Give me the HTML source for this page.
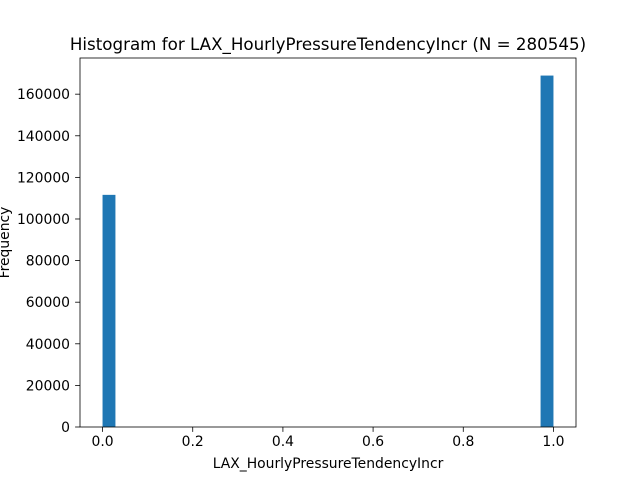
<!DOCTYPE html>
<html><head><meta charset="utf-8"><style>
body{margin:0;background:#fff;}
svg text{font-family:"DejaVu Sans","Liberation Sans",sans-serif;fill:#000;}
</style></head><body>
<svg id="chart" width="640" height="480"></svg>
<script>
const binCount = 35;
const counts = [111600,0,0,0,0,0,0,0,0,0,0,0,0,0,0,0,0,0,0,0,0,0,0,0,0,0,0,0,0,0,0,0,0,0,168945];
const xTicks = [0.0, 0.2, 0.4, 0.6, 0.8, 1.0];
const xTickLabels = ["0.0","0.2","0.4","0.6","0.8","1.0"];
const yTicks = [0,20000,40000,60000,80000,100000,120000,140000,160000];
const yTickLabels = ["0","20000","40000","60000","80000","100000","120000","140000","160000"];
const binWidth = 1/binCount;

const L=80,R=576,T=58,B=427;
const xmin=-0.05,xmax=1.05;
const ymax=Math.max(...counts)*1.05;
const xs=v=>L+(v-xmin)/(xmax-xmin)*(R-L);
const ys=v=>B-v/ymax*(B-T);
const svg=document.getElementById('chart');
const NS='http://www.w3.org/2000/svg';
function mk(tag,attrs,parent){const e=document.createElementNS(NS,tag);for(const k in attrs)e.setAttribute(k,attrs[k]);(parent||svg).appendChild(e);return e;}

counts.forEach((c,i)=>{
  if(c<=0)return;
  const x0=xs(i*binWidth),x1=xs((i+1)*binWidth);
  const r=mk('rect',{x:x0,y:ys(c),width:x1-x0,height:B-ys(c),fill:'#1f77b4'});
  
  
});

const frame=mk('rect',{x:L,y:T,width:R-L,height:B-T,fill:'none',stroke:'#000','stroke-width':0.8});



xTicks.forEach((v,i)=>{
  const x=xs(v);
  mk('line',{x1:x,x2:x,y1:B,y2:B+4.9,stroke:'#000','stroke-width':0.8});
  const t=mk('text',{x:x,y:B+19,'font-size':13.9,'text-anchor':'middle'});
  t.textContent=xTickLabels[i];
  
  
});
yTicks.forEach((v,i)=>{
  const y=ys(v);
  mk('line',{x1:L-4.9,x2:L,y1:y,y2:y,stroke:'#000','stroke-width':0.8});
  const t=mk('text',{x:L-10,y:y+5,'font-size':13.9,'text-anchor':'end'});
  t.textContent=yTickLabels[i];
  
  
});

const title=mk('text',{x:(L+R)/2,y:50,'font-size':16.7,'text-anchor':'middle'});
title.textContent='Histogram for LAX_HourlyPressureTendencyIncr (N = 280545)';



const xl=mk('text',{x:(L+R)/2,y:468,'font-size':13.9,'text-anchor':'middle'});
xl.textContent='LAX_HourlyPressureTendencyIncr';



const yl=mk('text',{x:0,y:0,'font-size':13.9,'text-anchor':'middle',transform:'translate(9,'+((T+B)/2)+') rotate(-90)'});
yl.textContent='Frequency';


</script>
</body></html>
